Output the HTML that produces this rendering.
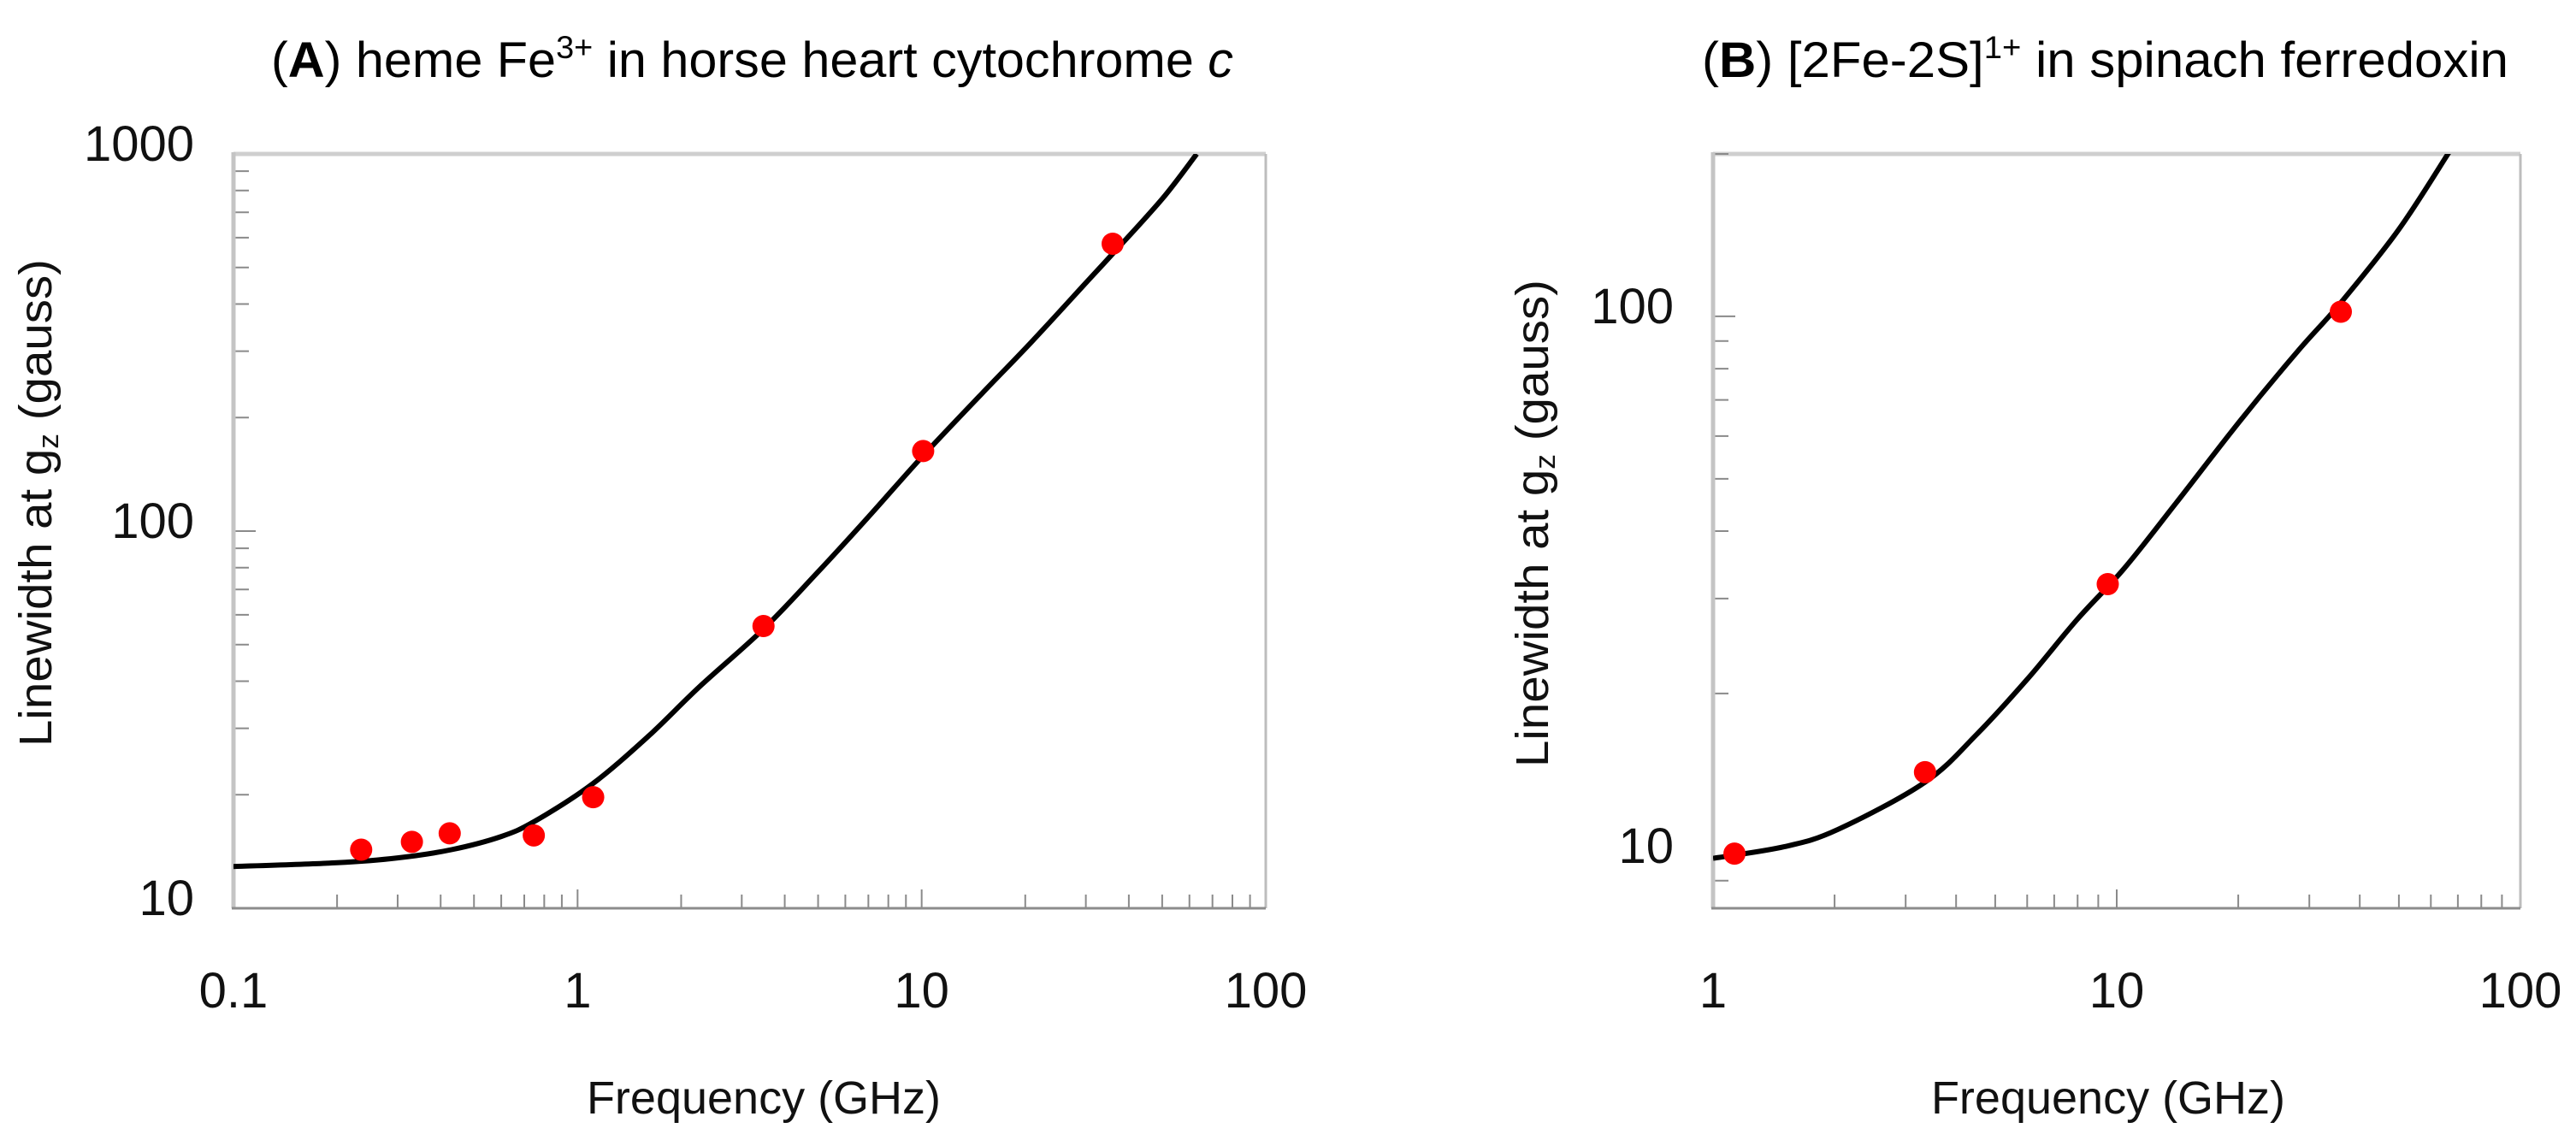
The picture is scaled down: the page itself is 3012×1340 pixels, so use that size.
<!DOCTYPE html>
<html><head><meta charset="utf-8">
<style>
html,body{margin:0;padding:0;background:#fff;}
svg{display:block;font-family:"Liberation Sans",sans-serif;}
</style></head>
<body>
<svg id="fig" width="3012" height="1340" viewBox="0 0 3012 1340" xmlns="http://www.w3.org/2000/svg">
<text x="317" y="90" font-size="58" textLength="1125" lengthAdjust="spacingAndGlyphs">(<tspan font-weight="bold">A</tspan>)  heme Fe<tspan font-size="37" dy="-22">3+</tspan><tspan dy="22"> in horse heart cytochrome </tspan><tspan font-style="italic">c</tspan></text>
<text x="1990" y="90" font-size="58" textLength="943" lengthAdjust="spacingAndGlyphs">(<tspan font-weight="bold">B</tspan>)  [2Fe-2S]<tspan font-size="37" dy="-22">1+</tspan><tspan dy="22"> in spinach ferredoxin</tspan></text>
<g id="pa"></g>
<g id="pb"></g>
</svg>
<script>
// Panel A data
const aPointFreq = [0.235, 0.33, 0.425, 0.746, 1.11, 3.47, 10.1, 35.9];
const aPointWidth = [14.3, 15.0, 15.8, 15.6, 19.7, 56, 163, 578];
const aCurveFreq = [0.1, 0.2, 0.3, 0.43, 0.6, 0.75, 1.1, 1.6, 2.25, 3.47, 5, 7, 10, 15, 20.9, 30, 36, 50, 63];
const aCurveWidth = [12.9, 13.2, 13.6, 14.3, 15.5, 17.0, 21.3, 28.5, 38.5, 55, 78, 109, 157, 232, 318, 455, 545, 760, 1000];
const aXTicks = [0.1, 1, 10, 100];
const aXTickLabels = ["0.1", "1", "10", "100"];
const aYTicks = [10, 100, 1000];
const aYTickLabels = ["10", "100", "1000"];
// Panel B data
const bPointFreq = [1.13, 3.35, 9.5, 35.9];
const bPointWidth = [10.1, 14.3, 31.9, 102];
const bCurveFreq = [1, 1.5, 2.04, 3.35, 4.5, 6.05, 8, 10.4, 14, 20.2, 28, 35.9, 50, 66.7];
const bCurveWidth = [9.9, 10.4, 11.2, 13.7, 16.8, 21.4, 27.5, 34, 45, 64, 86, 106, 145, 202];
const bXTicks = [1, 10, 100];
const bXTickLabels = ["1", "10", "100"];
const bYTicks = [10, 100];
const bYTickLabels = ["10", "100"];

const NS = "http://www.w3.org/2000/svg";
function mk(parent, tag, attrs){const e=document.createElementNS(NS,tag);for(const k in attrs)e.setAttribute(k,attrs[k]);parent.appendChild(e);return e;}

function smoothPath(pts){
  let d="M"+pts[0][0].toFixed(1)+","+pts[0][1].toFixed(1);
  for(let i=0;i<pts.length-1;i++){
    const p0=pts[Math.max(0,i-1)],p1=pts[i],p2=pts[i+1],p3=pts[Math.min(pts.length-1,i+2)];
    const c1=[p1[0]+(p2[0]-p0[0])/6,p1[1]+(p2[1]-p0[1])/6];
    const c2=[p2[0]-(p3[0]-p1[0])/6,p2[1]-(p3[1]-p1[1])/6];
    d+="C"+c1[0].toFixed(1)+","+c1[1].toFixed(1)+" "+c2[0].toFixed(1)+","+c2[1].toFixed(1)+" "+p2[0].toFixed(1)+","+p2[1].toFixed(1);
  }
  return d;
}

function drawPanel(g, cfg){
  const L=cfg.left,R=cfg.right,T=180,B=1062;
  const lx0=Math.log10(cfg.xmin),lx1=Math.log10(cfg.xmax),ly0=Math.log10(cfg.ymin),ly1=Math.log10(cfg.ymax);
  const X=v=>L+(Math.log10(v)-lx0)/(lx1-lx0)*(R-L);
  const Y=v=>B-(Math.log10(v)-ly0)/(ly1-ly0)*(B-T);
  const top=mk(g,"line",{x1:L,y1:T,x2:R,y2:T,stroke:"#cfcfcf","stroke-width":5});
  
  
  const right=mk(g,"line",{x1:R,y1:T,x2:R,y2:B,stroke:"#bdbdbd","stroke-width":3});
  
  
  for(let d=Math.floor(ly0);d<Math.ceil(ly1);d++){
    for(let m=1;m<10;m++){
      const v=m*Math.pow(10,d);
      if(v<cfg.ymin*0.999||v>cfg.ymax*1.001)continue;
      const y=Y(v);
      const t=mk(g,"line",{x1:L,y1:y,x2:L+(m===1?26:18),y2:y,stroke:"#8a8a8a","stroke-width":2});
      
      
    }
  }
  for(let d=Math.floor(lx0);d<Math.ceil(lx1);d++){
    for(let m=1;m<10;m++){
      const v=m*Math.pow(10,d);
      if(v<=cfg.xmin*1.001||v>=cfg.xmax*0.999)continue;
      const x=X(v);
      const t=mk(g,"line",{x1:x,y1:B,x2:x,y2:B-(m===1?22:16),stroke:"#8a8a8a","stroke-width":2});
      
      
    }
  }
  const ya=mk(g,"line",{x1:L,y1:T-2,x2:L,y2:B,stroke:"#c4c4c4","stroke-width":5});
  
  
  const xa=mk(g,"line",{x1:L-2,y1:B,x2:R,y2:B,stroke:"#8c8c8c","stroke-width":3});
  
  
  cfg.yt.forEach((v,i)=>{
    const t=mk(g,"text",{x:cfg.ylabRight,y:Y(v)+8,"font-size":58,"text-anchor":"end",fill:"#111"});
    t.textContent=cfg.ytl[i];
    
    
  });
  cfg.xt.forEach((v,i)=>{
    const t=mk(g,"text",{x:X(v),y:1178,"font-size":58,"text-anchor":"middle",fill:"#111"});
    t.textContent=cfg.xtl[i];
    
    
  });
  const xt=mk(g,"text",{x:cfg.xTitleX,y:1302,"font-size":54,"text-anchor":"middle",fill:"#111"});
  xt.textContent="Frequency (GHz)";
  
  
  const yt=mk(g,"text",{x:0,y:0,"font-size":54,"text-anchor":"middle",fill:"#111",transform:`translate(${cfg.yTitleX},${cfg.yTitleY}) rotate(-90)`,textLength:570,lengthAdjust:"spacingAndGlyphs"});
  yt.innerHTML='Linewidth at g<tspan font-size="34" dy="8">z</tspan><tspan dy="-8"> (gauss)</tspan>';
  
  
  const pts=cfg.cf.map((f,i)=>[X(f),Y(cfg.cw[i])]);
  const clip=mk(g,"clipPath",{id:cfg.id+"-clip"});
  mk(clip,"rect",{x:L,y:T,width:R-L,height:B-T});
  const p=mk(g,"path",{d:smoothPath(pts),fill:"none",stroke:"#000","stroke-width":6,"stroke-linejoin":"round","clip-path":`url(#${cfg.id}-clip)`});
  
  
  cfg.pf.forEach((f,i)=>{
    const c=mk(g,"circle",{cx:X(f),cy:Y(cfg.pw[i]),r:13,fill:"#ff0000"});
    
    
  });
}
drawPanel(document.getElementById("pa"),{id:"pa",left:273,right:1480,xmin:0.1,xmax:100,ymin:10,ymax:1000,
  xt:aXTicks,xtl:aXTickLabels,yt:aYTicks,ytl:aYTickLabels,ylabRight:227,xTitleX:893,yTitleX:60,yTitleY:588,
  cf:aCurveFreq,cw:aCurveWidth,pf:aPointFreq,pw:aPointWidth});
drawPanel(document.getElementById("pb"),{id:"pb",left:2003,right:2947,xmin:1,xmax:100,ymin:8,ymax:200,
  xt:bXTicks,xtl:bXTickLabels,yt:bYTicks,ytl:bYTickLabels,ylabRight:1957,xTitleX:2465,yTitleX:1810,yTitleY:612,
  cf:bCurveFreq,cw:bCurveWidth,pf:bPointFreq,pw:bPointWidth});
</script>
</body></html>
